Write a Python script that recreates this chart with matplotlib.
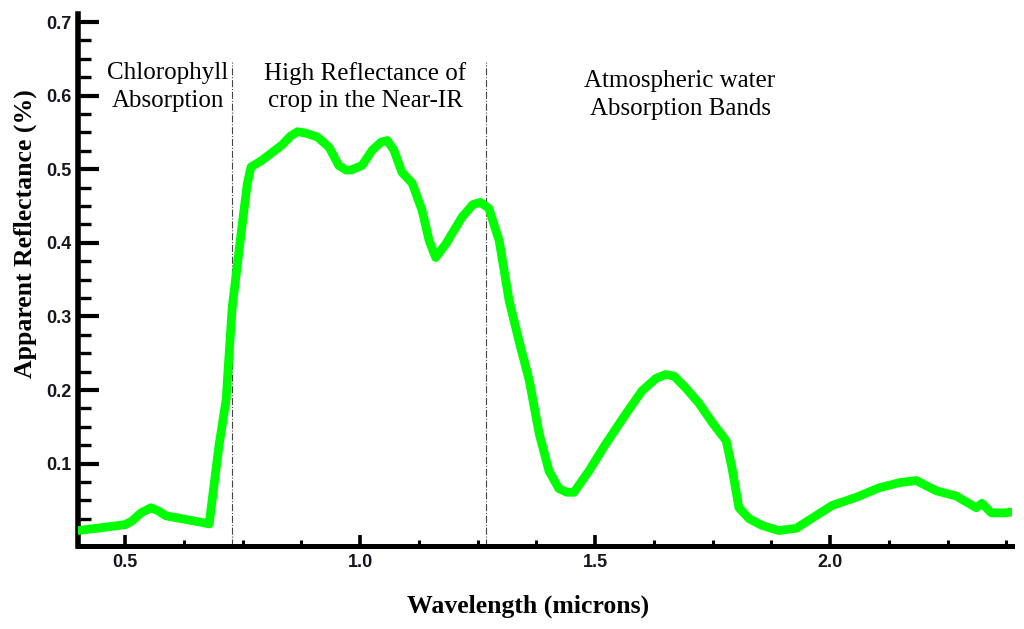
import matplotlib
matplotlib.use("Agg")
import matplotlib.pyplot as plt
import numpy as np
from matplotlib.ticker import FixedLocator, FormatStrFormatter

# ---- data ----
wavelength = [0.400, 0.450, 0.500, 0.515, 0.534, 0.555, 0.570, 0.587, 0.630, 0.672, 0.679,
              0.700, 0.715, 0.728, 0.747, 0.760, 0.768, 0.791, 0.834, 0.852, 0.867, 0.885, 0.909,
              0.934, 0.955, 0.970, 0.981, 1.004, 1.026, 1.045, 1.058, 1.072, 1.089, 1.111, 1.132,
              1.147, 1.161, 1.183, 1.217, 1.240, 1.256, 1.274, 1.296, 1.317, 1.338, 1.360,
              1.381, 1.402, 1.423, 1.440, 1.455, 1.487, 1.523, 1.566, 1.600, 1.630, 1.650, 1.668,
              1.694, 1.721, 1.749, 1.779, 1.791, 1.806, 1.828, 1.855, 1.891, 1.928,
              1.977, 2.004, 2.055, 2.104, 2.147, 2.183, 2.226, 2.268, 2.311, 2.323,
              2.343, 2.370, 2.385]
reflectance = [0.009, 0.013, 0.017, 0.022, 0.033, 0.040, 0.036, 0.029, 0.024, 0.019, 0.018,
               0.125, 0.186, 0.312, 0.413, 0.480, 0.503, 0.512, 0.533, 0.545, 0.551, 0.549, 0.544,
               0.530, 0.505, 0.499, 0.499, 0.505, 0.526, 0.537, 0.539, 0.526, 0.496, 0.481, 0.444,
               0.403, 0.380, 0.399, 0.435, 0.452, 0.455, 0.447, 0.403, 0.322, 0.267, 0.213,
               0.141, 0.090, 0.066, 0.061, 0.061, 0.090, 0.127, 0.168, 0.199, 0.216, 0.221, 0.219,
               0.202, 0.182, 0.156, 0.131, 0.095, 0.040, 0.025, 0.016, 0.009, 0.012,
               0.032, 0.043, 0.054, 0.067, 0.074, 0.077, 0.063, 0.056, 0.040, 0.046,
               0.033, 0.033, 0.034]

x_major = [0.5, 1.0, 1.5, 2.0]
x_minor = [0.625, 0.75, 0.875, 1.125, 1.25, 1.375, 1.625, 1.75, 1.875, 2.125, 2.25, 2.375]
y_major = [0.1, 0.2, 0.3, 0.4, 0.5, 0.6, 0.7]
y_minor = [0.025, 0.05, 0.075, 0.125, 0.15, 0.175, 0.225, 0.25, 0.275, 0.325, 0.35, 0.375,
           0.425, 0.45, 0.475, 0.525, 0.55, 0.575, 0.625, 0.65, 0.675]

region_dividers = [0.728, 1.268]
region_labels = ["Chlorophyll\nAbsorption", "High Reflectance of\ncrop in the Near-IR",
                 "Atmospheric water\nAbsorption Bands"]
x_title = "Wavelength (microns)"
y_title = "Apparent Reflectance (%)"

# ---- figure ----
W, H = 1024, 629
fig = plt.figure(figsize=(W / 100, H / 100), dpi=100)
ax = fig.add_axes([78 / W, (H - 546) / H, (1012 - 78) / W, (546 - 14) / H])

ax.set_xlim(0.40, 2.387)
ax.set_ylim(-0.012, 0.711)

ax.plot(wavelength, reflectance, color="#00ff00", lw=6.3,
        solid_joinstyle="round", solid_capstyle="round", zorder=3)

ax.vlines(region_dividers, -0.012, 0.646, colors="#444444", linestyles="-.",
          linewidth=0.8, zorder=2)

for s in ["top", "right"]:
    ax.spines[s].set_visible(False)
ax.spines["left"].set_linewidth(4.0)
ax.spines["bottom"].set_linewidth(3.6)

ax.xaxis.set_major_locator(FixedLocator(x_major))
ax.xaxis.set_minor_locator(FixedLocator(x_minor))
ax.yaxis.set_major_locator(FixedLocator(y_major))
ax.yaxis.set_minor_locator(FixedLocator(y_minor))
ax.xaxis.set_major_formatter(FormatStrFormatter("%.1f"))
ax.yaxis.set_major_formatter(FormatStrFormatter("%.1f"))

ax.tick_params(axis="y", which="major", direction="in", length=15, width=3.0, pad=5)
ax.tick_params(axis="y", which="minor", direction="in", length=9, width=2.4)
ax.tick_params(axis="x", which="major", direction="in", length=8, width=2.6, pad=6)
ax.tick_params(axis="x", which="minor", direction="in", length=4.5, width=2.2)
for lab in ax.get_xticklabels() + ax.get_yticklabels():
    lab.set_fontfamily("Liberation Sans")
    lab.set_fontweight("bold")
    lab.set_fontsize(13)
    lab.set_color("#15151f")

serif = "Liberation Serif"
# region annotations (figure pixel positions)
fig.text(168 / W, 1 - 87 / H, region_labels[0], ha="center", va="center",
         family=serif, fontsize=18, linespacing=1.35, multialignment="center")
fig.text(365 / W, 1 - 87 / H, region_labels[1], ha="center", va="center",
         family=serif, fontsize=18, linespacing=1.35, multialignment="center")
fig.text(680 / W, 1 - 95 / H, region_labels[2], ha="center", va="center",
         family=serif, fontsize=18, linespacing=1.35, multialignment="center")

fig.text(528 / W, 1 - 606 / H, x_title, ha="center", va="center",
         family=serif, fontweight="bold", fontsize=18.5)
fig.text(25 / W, 1 - 234 / H, y_title, ha="center", va="center", rotation=90,
         family=serif, fontweight="bold", fontsize=18.5)

fig.savefig("out.png", dpi=100)
